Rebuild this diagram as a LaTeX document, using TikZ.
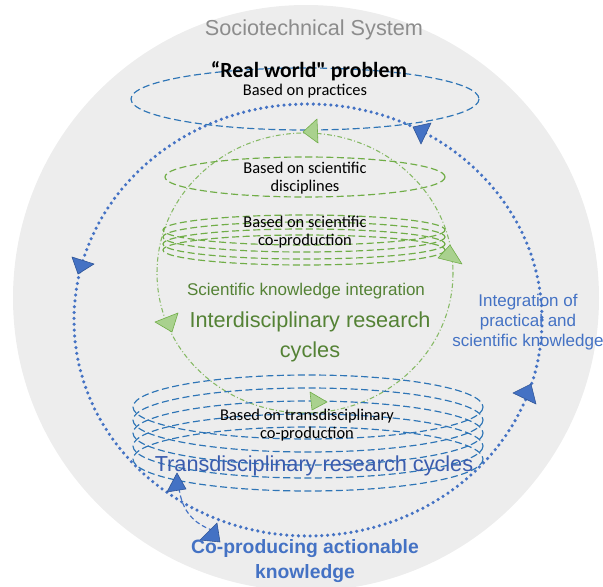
\documentclass[tikz,border=0pt]{standalone}
\usepackage{fontspec}
\setmainfont{Liberation Sans}
\newfontfamily\calibri{Carlito}

\definecolor{sysgrey}{HTML}{EDEDED}
\definecolor{systext}{HTML}{8C8C8C}
\definecolor{tdblue}{HTML}{2E75B6}
\definecolor{loopblue}{HTML}{4472C4}
\definecolor{tipblue}{HTML}{2F5597}
\definecolor{tdtext}{HTML}{3A5CAE}
\definecolor{idgreen}{HTML}{70AD47}
\definecolor{tipgreen}{HTML}{A9D18E}
\definecolor{idtext}{HTML}{548235}

\begin{document}
\begin{tikzpicture}[x=0.03cm,y=-0.03cm]
    \tikzstyle{td loop}=[draw=tdblue,line width=1pt,dash pattern=on 6pt off 3pt]
    \tikzstyle{id loop}=[draw=idgreen,line width=1pt,dash pattern=on 6pt off 3pt]
    \tikzstyle{id cycle}=[draw=idgreen!85,line width=0.9pt,dash pattern=on 4pt off 2pt on 0.8pt off 2pt]
    \tikzstyle{big loop}=[draw=loopblue,line width=3pt,line cap=round,dash pattern=on 0pt off 5pt]
    \tikzstyle{blue tip}=[fill=loopblue,draw=tipblue,line width=0.5pt,line join=round]
    \tikzstyle{green tip}=[fill=tipgreen,draw=idgreen,line width=0.5pt,line join=round]
    \tikzstyle{based}=[font=\calibri\fontsize{14}{16}\selectfont,align=center,inner sep=0pt]

    \useasboundingbox (0,0) rectangle (603,587);

    % the system as a whole
    \fill[sysgrey] (306,298) circle [radius=293];
    \node[text=systext,font=\fontsize{18.5}{22}\selectfont] (sys) at (314,30) {Sociotechnical System};

    % outer transdisciplinary loop
    \draw[big loop] (308,320) ellipse [x radius=234, y radius=216];
    \draw[td loop] (305,99) ellipse [x radius=174, y radius=31];

    % interdisciplinary cycle with its loops
    \draw[id cycle] (305,273) ellipse [x radius=148, y radius=140];
    \draw[id loop] (305,177) ellipse [x radius=140, y radius=20];
    \foreach \y in {230,237,244,250}
        \draw[id loop] (304,\y) ellipse [x radius=141, y radius=15];

    % co-production loops at the bottom
    \foreach \y in {407,420,433,446,459}
        \draw[td loop] (308,\y) ellipse [x radius=175, y radius=32];

    % path out to actionable knowledge
    \coordinate (out) at (179,488);
    \coordinate (coprod) at (212,530);
    \draw[draw=loopblue,line width=1pt,dash pattern=on 4pt off 2.5pt] (out) .. controls (182,512) and (195,524) .. (coprod);

    % arrow tips along the loops
    \filldraw[blue tip] (413,127) -- (431,123) -- (421,144) -- cycle;
    \filldraw[blue tip] (72,257) -- (94,264) -- (78,274) -- cycle;
    \filldraw[blue tip] (513,393) -- (531,384) -- (536,404) -- cycle;
    \filldraw[blue tip] (177,473) -- (167,492) -- (186,489) -- cycle;
    \filldraw[blue tip] (217,523) -- (200,540) -- (220,542) -- cycle;
    \filldraw[green tip] (303,132) -- (317,119) -- (318,143) -- cycle;
    \filldraw[green tip] (438,258) -- (450,245) -- (462,264) -- cycle;
    \filldraw[green tip] (155,322) -- (178,313) -- (172,332) -- cycle;
    \filldraw[green tip] (310,392) -- (327,402) -- (312,410) -- cycle;

    % labels
    \node[font=\calibri\bfseries\fontsize{18.5}{20}\selectfont,inner sep=0pt] (problem) at (309,71) {“Real world" problem};
    \node[based] (practice) at (305,91) {Based on practices};
    \node[based] (disc) at (305,178) {Based on scientific\\disciplines};
    \node[based] (sciprod) at (305,232) {Based on scientific\\co-production};
    \node[based] (tdprod) at (307,425) {Based on transdisciplinary\\co-production};

    \node[text=idtext,font=\fontsize{14.5}{17}\selectfont] (integ) at (306,291) {Scientific knowledge integration};
    \node[text=idtext,font=\fontsize{18.5}{26}\selectfont,align=center] (idcyc) at (310,337) {Interdisciplinary research\\cycles};
    \node[text=loopblue,font=\fontsize{14.5}{17}\selectfont,align=center] (practint) at (528,322) {Integration of\\practical and\\scientific knowledge};
    \node[text=tdtext,font=\fontsize{18.5}{22}\selectfont] (tdcyc) at (314,466) {Transdisciplinary research cycles};
    \node[text=loopblue,font=\bfseries\fontsize{16.5}{22}\selectfont,align=center] (action) at (305,561) {Co-producing actionable\\knowledge};
\end{tikzpicture}
\end{document}
